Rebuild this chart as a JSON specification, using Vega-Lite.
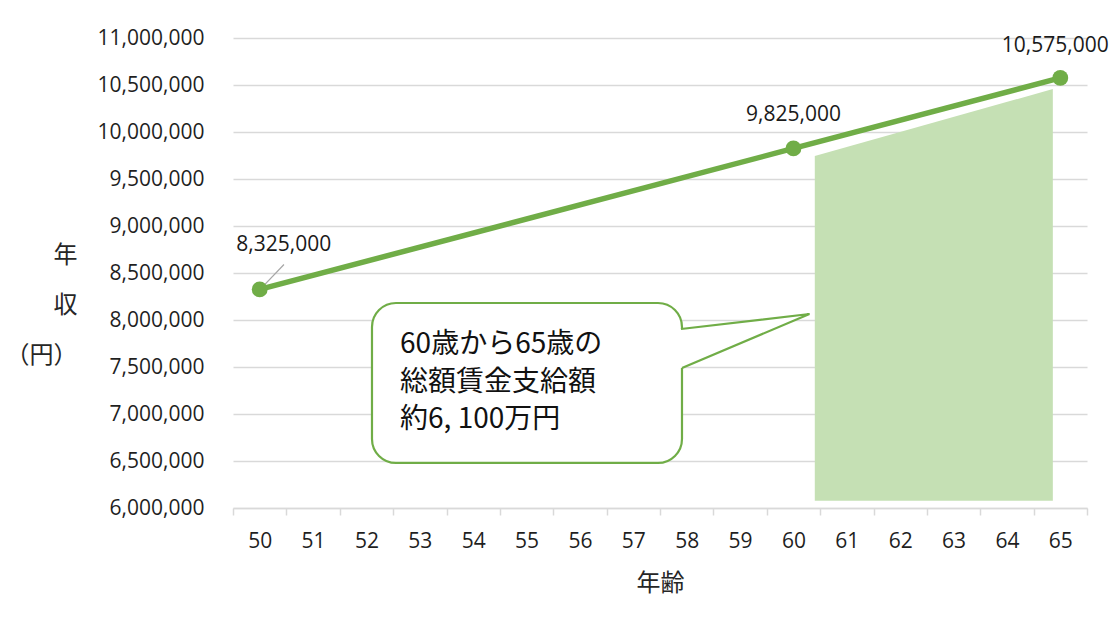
{
  "$schema": "https://vega.github.io/schema/vega-lite/v6.json",
  "width": 854,
  "height": 470,
  "autosize": {"type": "none"},
  "padding": {"left": 233, "top": 38, "right": 30, "bottom": 125},
  "background": "white",
  "config": {
    "view": {"stroke": null},
    "font": "Open Sans",
    "numberFormat": ",d",
    "axisY": {
      "tickCount": 10,
      "domain": false,
      "ticks": false,
      "grid": true,
      "gridColor": "#D9D9D9",
      "gridWidth": 1.4,
      "labelFont": "Open Sans",
      "labelFontSize": 21,
      "labelColor": "#1f1f1f",
      "labelPadding": 29,
      "titleFont": "Noto Sans CJK JP",
      "titleFontSize": 24,
      "titleFontWeight": "normal",
      "titleColor": "#262626",
      "titleAngle": 0,
      "titleAlign": "right",
      "titleBaseline": "middle",
      "titleX": -156,
      "titleY": 217,
      "titleLineHeight": 50
    }
  },
  "datasets": {
    "income": [
      {"age": 50, "income": 8325000},
      {"age": 60, "income": 9825000},
      {"age": 65, "income": 10575000}
    ],
    "total": [
      {"x": 60.4, "top": 9745000, "bottom": 6077000},
      {"x": 64.86, "top": 10457000, "bottom": 6077000}
    ],
    "box": [{"x1": 52.104, "x2": 57.912, "y1": 8181000, "y2": 6479000}],
    "pointer": [
      {"i": 1, "x": 57.893, "y": 7904000},
      {"i": 2, "x": 60.3, "y": 8064000},
      {"i": 3, "x": 57.912, "y": 7489000}
    ],
    "pointerFill": [
      {"i": 1, "x": 57.75, "y": 7904000},
      {"i": 2, "x": 57.893, "y": 7904000},
      {"i": 3, "x": 60.3, "y": 8064000},
      {"i": 4, "x": 57.912, "y": 7489000},
      {"i": 5, "x": 57.75, "y": 7489000}
    ],
    "leader": [{"x1": 50.04, "y1": 8345000, "x2": 50.455, "y2": 8590000}],
    "note": [{"x": 52.63, "y": 7734000, "text": "60歳から65歳の\n総額賃金支給額\n約6, 100万円"}]
  },
  "layer": [
    {
      "layer": [
        {
          "data": {"name": "total"},
          "mark": {"type": "area", "color": "#C5E0B4", "opacity": 1},
          "encoding": {
            "x": {"field": "x", "type": "quantitative", "scale": {"domain": [49.5, 65.5], "nice": false, "zero": false}, "axis": null},
            "y": {"field": "top", "type": "quantitative", "scale": {"domain": [6000000, 11000000], "nice": false, "zero": false}, "title": ["年", "収", "（円）"]},
            "y2": {"field": "bottom"}
          }
        },
        {
          "data": {"name": "leader"},
          "mark": {"type": "rule", "color": "#A6A6A6", "strokeWidth": 1.2},
          "encoding": {
            "x": {"field": "x1", "type": "quantitative", "scale": {"domain": [49.5, 65.5], "nice": false, "zero": false}, "axis": null},
            "x2": {"field": "x2"},
            "y": {"field": "y1", "type": "quantitative", "title": ["年", "収", "（円）"]},
            "y2": {"field": "y2"}
          }
        },
        {
          "data": {"name": "box"},
          "mark": {"type": "rect", "fill": "white", "stroke": "#70AD47", "strokeWidth": 2.2, "cornerRadius": 24},
          "encoding": {
            "x": {"field": "x1", "type": "quantitative", "scale": {"domain": [49.5, 65.5], "nice": false, "zero": false}, "axis": null},
            "x2": {"field": "x2"},
            "y": {"field": "y1", "type": "quantitative", "title": ["年", "収", "（円）"]},
            "y2": {"field": "y2"}
          }
        },
        {
          "data": {"name": "pointerFill"},
          "mark": {"type": "line", "filled": true, "fill": "white", "strokeWidth": 0, "interpolate": "linear"},
          "encoding": {
            "x": {"field": "x", "type": "quantitative", "scale": {"domain": [49.5, 65.5], "nice": false, "zero": false}, "axis": null},
            "y": {"field": "y", "type": "quantitative", "title": ["年", "収", "（円）"]},
            "order": {"field": "i"}
          }
        },
        {
          "data": {"name": "pointer"},
          "mark": {"type": "line", "color": "#70AD47", "strokeWidth": 2.2, "strokeJoin": "miter"},
          "encoding": {
            "x": {"field": "x", "type": "quantitative", "scale": {"domain": [49.5, 65.5], "nice": false, "zero": false}, "axis": null},
            "y": {"field": "y", "type": "quantitative", "title": ["年", "収", "（円）"]},
            "order": {"field": "i"}
          }
        },
        {
          "data": {"name": "note"},
          "mark": {"type": "text", "align": "left", "baseline": "middle", "lineBreak": "\n", "lineHeight": 37.5, "font": "Noto Sans CJK JP", "fontSize": 28, "color": "#111111"},
          "encoding": {
            "x": {"field": "x", "type": "quantitative", "scale": {"domain": [49.5, 65.5], "nice": false, "zero": false}, "axis": null},
            "y": {"field": "y", "type": "quantitative", "title": ["年", "収", "（円）"]},
            "text": {"field": "text"}
          }
        }
      ]
    },
    {
      "data": {"name": "income"},
      "encoding": {
        "x": {
          "field": "age", "type": "ordinal",
          "scale": {"type": "band", "domain": [50, 51, 52, 53, 54, 55, 56, 57, 58, 59, 60, 61, 62, 63, 64, 65], "paddingInner": 0, "paddingOuter": 0},
          "axis": {
            "orient": "bottom",
            "labelAngle": 0,
            "tickBand": "extent",
            "domainColor": "#D9D9D9",
            "domainWidth": 1.5,
            "tickColor": "#D9D9D9",
            "tickWidth": 1.5,
            "tickSize": 7,
            "labelFont": "Open Sans",
            "labelFontSize": 21,
            "labelColor": "#1f1f1f",
            "labelPadding": 15,
            "title": "年齢",
            "titleFont": "Noto Sans CJK JP",
            "titleFontSize": 24,
            "titleFontWeight": "normal",
            "titleColor": "#262626",
            "titleBaseline": "middle",
            "titleY": 75
          }
        },
        "y": {"field": "income", "type": "quantitative", "title": ["年", "収", "（円）"]}
      },
      "layer": [
        {"mark": {"type": "line", "color": "#70AD47", "strokeWidth": 5.5}},
        {"mark": {"type": "point", "filled": true, "shape": "circle", "size": 250, "color": "#70AD47", "opacity": 1}},
        {
          "transform": [{"filter": "datum.age == 50"}],
          "mark": {"type": "text", "dx": 24, "dy": -44, "baseline": "middle", "fontSize": 21, "font": "Open Sans", "color": "#1a1a1a"},
          "encoding": {"text": {"field": "income", "type": "quantitative", "format": ",d"}}
        },
        {
          "transform": [{"filter": "datum.age == 60"}],
          "mark": {"type": "text", "dx": 0, "dy": -33, "baseline": "middle", "fontSize": 21, "font": "Open Sans", "color": "#1a1a1a"},
          "encoding": {"text": {"field": "income", "type": "quantitative", "format": ",d"}}
        },
        {
          "transform": [{"filter": "datum.age == 65"}],
          "mark": {"type": "text", "dx": -5, "dy": -32, "baseline": "middle", "fontSize": 21, "font": "Open Sans", "color": "#1a1a1a"},
          "encoding": {"text": {"field": "income", "type": "quantitative", "format": ",d"}}
        }
      ]
    }
  ],
  "resolve": {"scale": {"x": "independent"}}
}
